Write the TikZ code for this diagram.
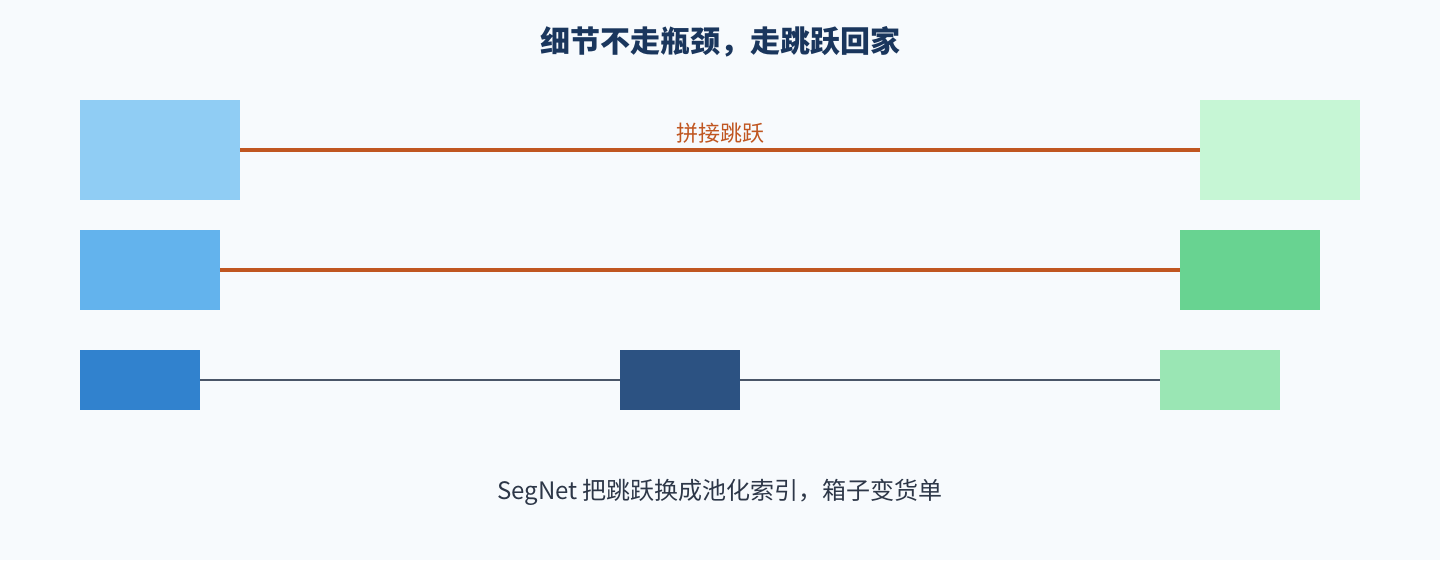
\documentclass[tikz,border=0pt]{standalone}
\usepackage{fontspec}
\setmainfont{Noto Sans CJK SC}
\definecolor{bgc}{HTML}{F7FAFD}
\definecolor{titlec}{HTML}{1A365D}
\definecolor{skipc}{HTML}{C05621}
\definecolor{linec}{HTML}{4A5568}
\definecolor{textc}{HTML}{2D3748}
\definecolor{encA}{HTML}{90CDF4}
\definecolor{encB}{HTML}{63B3ED}
\definecolor{encC}{HTML}{3182CE}
\definecolor{botc}{HTML}{2C5282}
\definecolor{decA}{HTML}{C6F6D5}
\definecolor{decB}{HTML}{68D391}
\definecolor{decC}{HTML}{9AE6B4}
\begin{document}
\begin{tikzpicture}[x=1pt,y=-1pt,
  blk/.style={inner sep=0pt, outer sep=0pt, draw=none},
  skipline/.style={draw=skipc, line width=4pt},
  plainline/.style={draw=linec, line width=2pt}]
\fill[bgc] (0,0) rectangle (1440,560);
\useasboundingbox (0,0) rectangle (1440,560);
\node[font=\bfseries\fontsize{30}{36}\selectfont, text=titlec] (title) at (720,42) {细节不走瓶颈，走跳跃回家};
% row 1
\node[blk, fill=encA, minimum width=160pt, minimum height=100pt] (e1) at (160,150) {};
\node[blk, fill=decA, minimum width=160pt, minimum height=100pt] (d1) at (1280,150) {};
% row 2
\node[blk, fill=encB, minimum width=140pt, minimum height=80pt] (e2) at (150,270) {};
\node[blk, fill=decB, minimum width=140pt, minimum height=80pt] (d2) at (1250,270) {};
% row 3
\node[blk, fill=encC, minimum width=120pt, minimum height=60pt] (e3) at (140,380) {};
\node[blk, fill=botc, minimum width=120pt, minimum height=60pt] (b3) at (680,380) {};
\node[blk, fill=decC, minimum width=120pt, minimum height=60pt] (d3) at (1220,380) {};
\draw[skipline] (e1.east) -- node[midway, yshift=17pt, text=skipc, font=\fontsize{22}{26}\selectfont] (lbl) {拼接跳跃} (d1.west);
\draw[skipline] (e2.east) -- (d2.west);
\draw[plainline] (e3.east) -- (b3.west);
\draw[plainline] (b3.east) -- (d3.west);
\node[font=\fontsize{24}{28}\selectfont, text=textc] (cap) at (720,492) {SegNet 把跳跃换成池化索引，箱子变货单};
\end{tikzpicture}
\end{document}
